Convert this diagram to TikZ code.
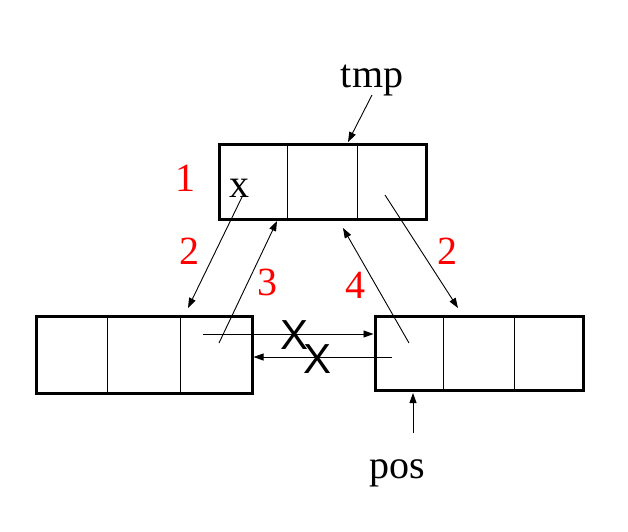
\documentclass[tikz,border=0pt]{standalone}
\usepackage{fontspec}
\setmainfont{Liberation Serif}
\newfontfamily\crossfont{Liberation Sans}
\usetikzlibrary{arrows.meta,positioning,calc}
\definecolor{stepRed}{HTML}{FF0000}
\tikzset{
  listbox/.style={draw=black, line width=3pt, inner sep=0pt},
  cellrule/.style={draw=black, line width=0.9pt},
  nameText/.style={font=\fontsize{40}{48}\selectfont, anchor=base, inner sep=0pt},
  stepText/.style={font=\fontsize{40}{48}\selectfont, text=stepRed, anchor=base, inner sep=0pt},
  crossText/.style={font=\crossfont\fontsize{42}{50}\selectfont, inner sep=0pt},
  ptr/.style={-{Triangle[length=10pt, width=7pt]}, line width=0.9pt},
}

\begin{document}
\begin{tikzpicture}[x=1pt, y=-1pt]
  \useasboundingbox (0,0) rectangle (628,531);
  % the three list cells
  \node[listbox, minimum width=207pt, minimum height=75pt] (tmpbox)   at (322.5,181.5) {};
  \node[listbox, minimum width=216pt, minimum height=77pt] (leftbox)  at (144,354.5) {};
  \node[listbox, minimum width=208pt, minimum height=74pt] (rightbox) at (479,353) {};
  \foreach \b in {tmpbox,leftbox,rightbox}
    \foreach \f in {1/3,2/3}
      \draw[cellrule] ($(\b.north west)!\f!(\b.north east)$) -- ($(\b.south west)!\f!(\b.south east)$);

  % names and value
  \node[nameText] (tmpname) at (372,87) {tmp};
  \node[nameText] (posname) at (397,478) {pos};
  \node[nameText] (xval)    at (239,197) {x};

  % step numbers
  \node[stepText] (one)    at (185,191) {1};
  \node[stepText] (twoL)   at (189,264) {2};
  \node[stepText] (three)  at (267,295) {3};
  \node[stepText] (four)   at (355,298) {4};
  \node[stepText] (twoR)   at (447,264) {2};

  % crossed out links
  \node[crossText] (crossA) at (295,335) {X};
  \node[crossText] (crossB) at (318,359) {X};

  % pointer ends
  \coordinate (tmpfoot)   at (372,95);
  \coordinate (tmptip)    at (348,142);
  \coordinate (posfoot)   at (413,433);
  \coordinate (postip)    at (413,393);
  \coordinate (xfoot)     at (242,197);
  \coordinate (lefttip)   at (188,308);
  \coordinate (leftnext)  at (219,343);
  \coordinate (tmpin)     at (277,221);
  \coordinate (rightprev) at (409,343);
  \coordinate (tmpin2)    at (343,228);
  \coordinate (tmpnext)   at (385,195);
  \coordinate (righttip)  at (458,308);
  \coordinate (fwdfoot)   at (203,334);
  \coordinate (backfoot)  at (392,357);

  \draw[ptr] (tmpfoot) -- (tmptip);
  \draw[ptr] (posfoot) -- (postip);
  \draw[ptr] (xfoot) -- (lefttip);
  \draw[ptr] (leftnext) -- (tmpin);
  \draw[ptr] (rightprev) -- (tmpin2);
  \draw[ptr] (tmpnext) -- (righttip);
  \draw[ptr] (fwdfoot) -- (fwdfoot -| rightbox.west);
  \draw[ptr] (backfoot) -- (backfoot -| leftbox.east);
\end{tikzpicture}
\end{document}
